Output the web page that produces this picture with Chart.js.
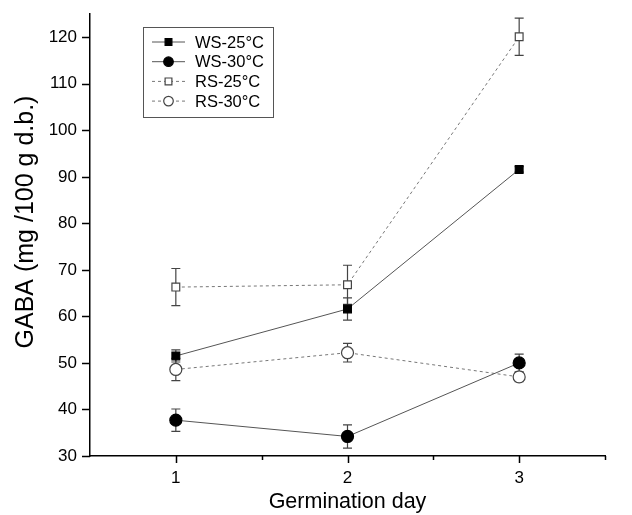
<!DOCTYPE html>
<html>
<head>
<meta charset="utf-8">
<script src="https://cdn.jsdelivr.net/npm/chart.js@4.4.1/dist/chart.umd.min.js"></script>
<style>
  html, body { margin:0; padding:0; background:#fff; }
  #wrap { width:632px; height:515px; position:relative; }
</style>
</head>
<body>
<div id="wrap"><canvas id="gaba"></canvas></div>
<script>
// days on x axis
const days = [1, 2, 3];

// GABA mean values (mg/100 g d.b.) and error bars
const ws25 = [51.5, 61.6, 91.6];
const ws25Err = [1.3, 2.4, 0.6];
const ws30 = [37.7, 34.2, 50.0];
const ws30Err = [2.4, 2.5, 1.9];
const rs25 = [66.3, 66.8, 120.1];
const rs25Err = [4.0, 4.2, 4.0];
const rs30 = [48.6, 52.2, 47.0];
const rs30Err = [2.4, 2.0, 1.0];

const seriesNames = ["WS-25°C", "WS-30°C", "RS-25°C", "RS-30°C"];
const yTitle = "GABA (mg /100 g d.b.)";

const FONT = "'Liberation Sans', Arial, sans-serif";

function toPoints(vals){
  return vals.map((v, i) => ({ x: days[i], y: v }));
}

function makeSet(label, vals, errs, opts){
  return Object.assign({
    label,
    data: toPoints(vals),
    errors: errs,
    borderWidth: 1,
    pointBorderWidth: 1.2,
    pointBorderColor: "#000",
    tension: 0
  }, opts);
}

const datasets = [
  makeSet(seriesNames[0], ws25, ws25Err, { borderColor:"#555", pointStyle:"rect", pointRadius:5.5, pointBackgroundColor:"#000" }),
  makeSet(seriesNames[1], ws30, ws30Err, { borderColor:"#555", pointStyle:"circle", pointRadius:6, pointBackgroundColor:"#000" }),
  makeSet(seriesNames[2], rs25, rs25Err, { borderColor:"#777", borderDash:[3,3], pointStyle:"rect", pointRadius:5.5, pointBackgroundColor:"#fff", pointBorderColor:"#444" }),
  makeSet(seriesNames[3], rs30, rs30Err, { borderColor:"#777", borderDash:[3,3], pointStyle:"circle", pointRadius:6, pointBackgroundColor:"#fff", pointBorderColor:"#444" })
];

// error bars drawn under the markers
const errorBars = {
  id: "errorBars",
  beforeDatasetsDraw(chart){
    const { ctx, scales:{ x, y } } = chart;
    ctx.save();
    ctx.strokeStyle = "#444";
    ctx.lineWidth = 1.2;
    chart.data.datasets.forEach(ds => {
      ds.data.forEach((p, i) => {
        const e = ds.errors[i];
        const px = x.getPixelForValue(p.x);
        const top = y.getPixelForValue(p.y + e);
        const bot = y.getPixelForValue(p.y - e);
        ctx.beginPath();
        ctx.moveTo(px, top); ctx.lineTo(px, bot);
        ctx.moveTo(px - 4.5, top); ctx.lineTo(px + 4.5, top);
        ctx.moveTo(px - 4.5, bot); ctx.lineTo(px + 4.5, bot);
        ctx.stroke();
      });
    });
    ctx.restore();
  }
};

// outward major/minor ticks like the original plot, plus the y title
const axisTicks = {
  id: "axisTicks",
  afterDraw(chart){
    const { ctx, scales:{ x, y } } = chart;
    ctx.save();
    ctx.strokeStyle = "#000";
    ctx.lineWidth = 1.5;
    ctx.beginPath();
    y.ticks.forEach(t => {
      const py = Math.round(y.getPixelForValue(t.value)) + 0.5;
      const len = (t.value % 10 === 0) ? 8 : 4;
      ctx.moveTo(y.right, py); ctx.lineTo(y.right - len, py);
    });
    x.ticks.forEach(t => {
      if (t.value <= x.min) return;
      const px = Math.round(x.getPixelForValue(t.value)) + 0.5;
      const len = Number.isInteger(t.value) ? 7 : 4;
      ctx.moveTo(px, x.top); ctx.lineTo(px, x.top + len);
    });
    ctx.stroke();

    // y axis title sits a bit above the plot centre in the original
    ctx.translate(26, 222);
    ctx.rotate(-Math.PI / 2);
    ctx.font = "25px " + FONT;
    ctx.fillStyle = "#000";
    ctx.textAlign = "center";
    ctx.textBaseline = "middle";
    ctx.fillText(yTitle, 0, 0);
    ctx.restore();
  }
};

// boxed legend with line + marker samples
const boxLegend = {
  id: "boxLegend",
  afterDraw(chart){
    const { ctx } = chart;
    const bx = 143.5, by = 27.5, bw = 130, bh = 90;
    ctx.save();
    ctx.strokeStyle = "#555";
    ctx.lineWidth = 1;
    ctx.strokeRect(bx, by, bw, bh);
    ctx.font = "16.5px " + FONT;
    ctx.textBaseline = "middle";
    chart.data.datasets.forEach((ds, i) => {
      const cy = 42 + i * 19.7;
      ctx.strokeStyle = ds.borderColor;
      ctx.lineWidth = 1;
      ctx.setLineDash(ds.borderDash || []);
      ctx.beginPath();
      ctx.moveTo(152, cy); ctx.lineTo(185, cy);
      ctx.stroke();
      ctx.setLineDash([]);
      ctx.fillStyle = ds.pointBackgroundColor;
      ctx.strokeStyle = ds.pointBorderColor;
      ctx.lineWidth = 1.2;
      Chart.helpers.drawPoint(ctx, { pointStyle: ds.pointStyle, radius: 4.8, borderWidth: 1.2 }, 168.5, cy);
      ctx.fillStyle = "#000";
      ctx.fillText(ds.label, 195, cy + 1);
    });
    ctx.restore();
  }
};

new Chart(document.getElementById("gaba"), {
  type: "line",
  data: { datasets },
  plugins: [errorBars, axisTicks, boxLegend],
  options: {
    responsive: true,
    maintainAspectRatio: false,
    animation: false,
    layout: { padding: { top: 14, right: 27, left: 0, bottom: 0 } },
    plugins: { legend: { display:false }, tooltip: { enabled:false } },
    scales: {
      x: {
        type: "linear",
        min: 0.5, max: 3.5,
        afterFit(s){ s.height = 59; s.paddingLeft = 0; s.paddingRight = 0; },
        grid: { display:false, drawTicks:false },
        border: { display:true, color:"#000", width:1.5 },
        ticks: {
          stepSize: 0.5, includeBounds: false, padding: 12,
          color: "#000", font: { family: FONT, size: 17 },
          callback: v => Number.isInteger(v) ? v : ""
        },
        title: { display:true, text:"Germination day", color:"#000", font:{ family: FONT, size: 21.5 }, padding:{ top: 3, bottom: 0 } }
      },
      y: {
        min: 30, max: 125,
        afterFit(s){ s.width = 90; s.paddingTop = 0; s.paddingBottom = 0; },
        grid: { display:false, drawTicks:false },
        border: { display:true, color:"#000", width:1.5 },
        ticks: {
          stepSize: 5, includeBounds: false, padding: 13,
          color: "#000", font: { family: FONT, size: 17 },
          callback: v => (v % 10 === 0) ? v : ""
        },
        title: { display:false }
      }
    }
  }
});
</script>
</body>
</html>
